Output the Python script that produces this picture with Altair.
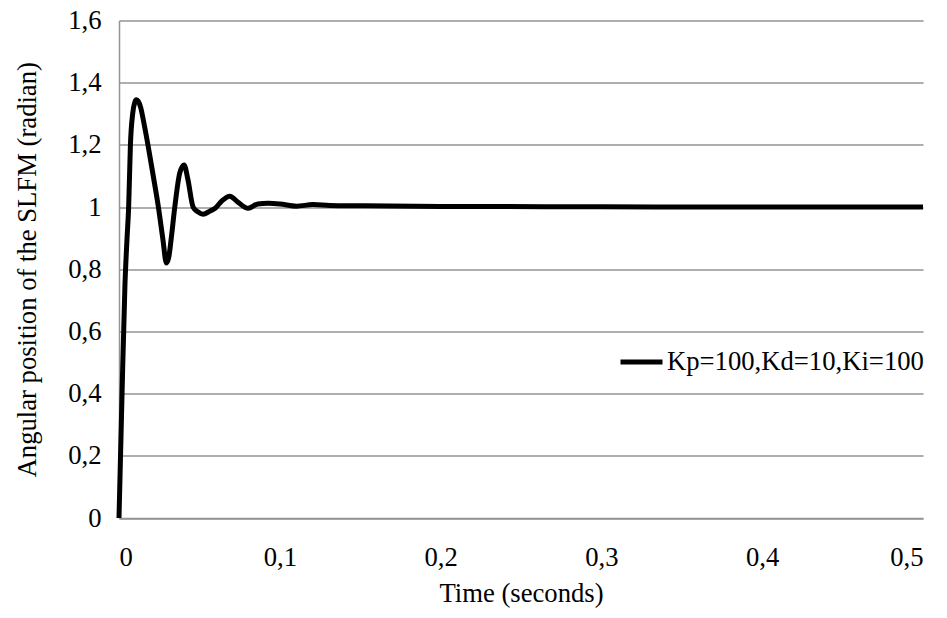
import altair as alt
import pandas as pd

# Time (s) and angular position (rad)
time_s = [0.0, 0.0018, 0.0037, 0.0050, 0.0060, 0.0071, 0.0085, 0.0097, 0.0108,
          0.0120, 0.0135, 0.0155, 0.0180, 0.0213, 0.0245, 0.0272, 0.0295,
          0.0310, 0.0325, 0.0347, 0.0378, 0.0405, 0.0428, 0.0461, 0.0490, 0.0523,
          0.0565, 0.0600, 0.0640, 0.0689, 0.0739, 0.0803, 0.0863, 0.0928,
          0.1000, 0.1104, 0.1206, 0.1310, 0.1500, 0.2000, 0.3000, 0.4000, 0.5000]
position = [0.0, 0.38, 0.75, 0.90, 1.0, 1.2, 1.30, 1.335, 1.345,
            1.34, 1.32, 1.27, 1.2, 1.10, 1.0, 0.90, 0.82,
            0.84, 0.90, 1.0, 1.11, 1.135, 1.09, 1.0, 0.985, 0.977,
            0.987, 0.997, 1.02, 1.035, 1.016, 0.996, 1.010, 1.012,
            1.010, 1.003, 1.008, 1.005, 1.004, 1.002, 1.001, 1.0, 1.0]
series_name = "Kp=100,Kd=10,Ki=100"

x_ticks = [0, 0.1, 0.2, 0.3, 0.4, 0.5]
y_ticks = [0, 0.2, 0.4, 0.6, 0.8, 1.0, 1.2, 1.4, 1.6]

df = pd.DataFrame({"t": time_s, "v": position, "series": [series_name] * len(time_s)})

FONT = "Liberation Serif"
FS = 26.67
GRID = "#939393"
label_expr = "replace(format(datum.value, '.1~f'), '.', ',')"

axis_style = dict(labelFont=FONT, labelFontSize=FS, labelColor="black",
                  titleFont=FONT, titleFontSize=FS, titleColor="black",
                  titleFontWeight="normal", ticks=False, domain=True,
                  domainColor=GRID, domainWidth=1.5, labelExpr=label_expr)

chart = alt.Chart(df).mark_line(strokeWidth=5, interpolate="monotone").encode(
    x=alt.X("t:Q", scale=alt.Scale(domain=[0, 0.5], nice=False),
            axis=alt.Axis(values=x_ticks, title="Time (seconds)", grid=False,
                          labelPadding=47, labelBaseline="alphabetic",
                          titleBaseline="alphabetic", titleY=83, **axis_style)),
    y=alt.Y("v:Q", scale=alt.Scale(domain=[0, 1.6], nice=False),
            axis=alt.Axis(values=y_ticks, title="Angular position of the SLFM (radian)",
                          grid=True, gridColor=GRID, gridWidth=1.5,
                          labelPadding=18, titleBaseline="alphabetic", titleX=-84,
                          **axis_style)),
    color=alt.Color("series:N", scale=alt.Scale(range=["black"]),
                    legend=alt.Legend(title=None, orient="none", legendX=499, legendY=318,
                                      symbolType="stroke", symbolStrokeWidth=5,
                                      symbolSize=1764, labelOffset=2, padding=0,
                                      labelFont=FONT, labelFontSize=FS, labelColor="black",
                                      labelLimit=400)),
).properties(
    width=804, height=497.5,
    padding={"left": 119, "top": 20.5, "right": 24, "bottom": 100},
    autosize=alt.AutoSizeParams(type="none"),
    background="white",
).configure_view(stroke=None)

chart.save("out.html", embed_options={"renderer": "svg", "actions": False})
